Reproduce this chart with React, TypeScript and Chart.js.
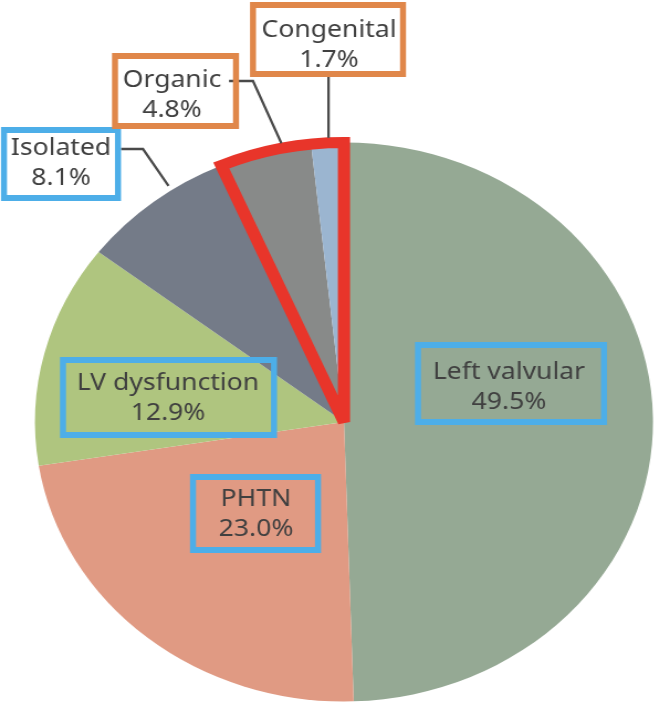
import React, { useEffect, useRef } from "react";
import { Chart, registerables } from "chart.js";

Chart.register(...registerables);

// ---- data ----
const categories = ["Left valvular", "PHTN", "LV dysfunction", "Isolated", "Organic", "Congenital"];
const shares = [49.5, 23.0, 12.9, 8.1, 4.8, 1.7];
const valueLabels = ["49.5%", "23.0%", "12.9%", "8.1%", "4.8%", "1.7%"];
const highlighted = ["Organic", "Congenital"];

// ---- styles ----
const sliceColors = ["#95A994", "#E09A83", "#AFC57F", "#747B88", "#888A89", "#9BB5D0"];
const BLUE = "#4DAEE8";
const ORANGE = "#E0874A";
const boxColors = [BLUE, BLUE, BLUE, BLUE, ORANGE, ORANGE];
const RED = "#E8352A";
const TEXT = "#404040";
const LEADER = "#4A4A4A";

// horizontal stretch of the original picture
const SX = 1.1056;
const W = 592;
const H = 704;

// label boxes (display px): outer rect, text centre x, first baseline
type Box = {
  x0: number; y0: number; x1: number; y1: number; tx: number; b1: number; fill: string | null;
  leader?: { fromX?: number; fromY: number; elbowX?: number; frac: number; vertical?: boolean };
};
const boxLayout: Box[] = [
  { x0: 415, y0: 342, x1: 607, y1: 425, tx: 509, b1: 379, fill: null },
  { x0: 190, y0: 474, x1: 321, y1: 553, tx: 256, b1: 506, fill: null },
  { x0: 60, y0: 357, x1: 277, y1: 438, tx: 168, b1: 390, fill: null },
  { x0: 1, y0: 127, x1: 121, y1: 201, tx: 61, b1: 155, fill: "#FFFFFF", leader: { fromX: 121, fromY: 149, elbowX: 143, frac: 0.64 } },
  { x0: 112, y0: 53, x1: 239, y1: 129, tx: 172, b1: 87, fill: "#FFFFFF", leader: { fromX: 229, fromY: 81, elbowX: 253, frac: 0.69 } },
  { x0: 250, y0: 2, x1: 406, y1: 77, tx: 329, b1: 37, fill: "#FFFFFF", leader: { fromY: 77, frac: 0.54, vertical: true } },
];

const annotations = {
  id: "annotations",
  afterDatasetsDraw(chart: any) {
    const ctx: CanvasRenderingContext2D = chart.ctx;
    const arcs = chart.getDatasetMeta(0).data as any[];
    const cx = arcs[0].x;
    const cy = arcs[0].y;
    const r = arcs[0].outerRadius;

    // red outline around highlighted slices
    const hi = highlighted.map((h) => categories.indexOf(h));
    const startA = arcs[hi[0]].startAngle;
    const endA = arcs[hi[hi.length - 1]].endAngle;
    ctx.save();
    ctx.beginPath();
    ctx.moveTo(cx, cy);
    ctx.arc(cx, cy, r, startA, endA);
    ctx.closePath();
    ctx.lineWidth = 11;
    ctx.strokeStyle = RED;
    ctx.lineJoin = "miter";
    ctx.miterLimit = 2;
    ctx.stroke();
    ctx.restore();

    // boxes + leaders in display coordinates
    ctx.save();
    ctx.scale(1 / SX, 1);
    boxLayout.forEach((b) => {
      if (b.fill) {
        ctx.fillStyle = b.fill;
        ctx.fillRect(b.x0, b.y0, b.x1 - b.x0, b.y1 - b.y0);
      }
    });
    boxLayout.forEach((b, i) => {
      if (!b.leader) return;
      const a = arcs[i];
      const th = a.startAngle + b.leader.frac * (a.endAngle - a.startAngle);
      const ex = (cx + (r + 5) * Math.cos(th)) * SX;
      const ey = cy + (r + 5) * Math.sin(th);
      ctx.beginPath();
      if (b.leader.vertical) {
        ctx.moveTo(ex, b.leader.fromY);
        ctx.lineTo(ex, ey);
      } else {
        ctx.moveTo(b.leader.fromX as number, b.leader.fromY);
        ctx.lineTo(b.leader.elbowX as number, b.leader.fromY);
        ctx.lineTo(ex, ey);
      }
      ctx.lineWidth = 2.5;
      ctx.strokeStyle = LEADER;
      ctx.stroke();
    });
    boxLayout.forEach((b, i) => {
      ctx.lineWidth = 6;
      ctx.strokeStyle = boxColors[i];
      ctx.strokeRect(b.x0 + 3, b.y0 + 3, b.x1 - b.x0 - 6, b.y1 - b.y0 - 6);
    });
    ctx.restore();

    // text (stretched like the original)
    ctx.save();
    ctx.font = "24px 'Noto Sans', sans-serif";
    ctx.fillStyle = TEXT;
    ctx.textAlign = "center";
    ctx.textBaseline = "alphabetic";
    boxLayout.forEach((b, i) => {
      ctx.fillText(categories[i], b.tx / SX, b.b1);
      ctx.fillText(valueLabels[i], b.tx / SX, b.b1 + 30);
    });
    ctx.restore();
  },
};

export default function App() {
  const ref = useRef<HTMLCanvasElement>(null);
  useEffect(() => {
    if (!ref.current) return;
    const chart = new Chart(ref.current, {
      type: "pie",
      data: {
        labels: categories,
        datasets: [
          {
            data: shares,
            backgroundColor: sliceColors,
            borderWidth: 0,
            hoverOffset: 0,
          },
        ],
      },
      options: {
        responsive: false,
        animation: false,
        events: [],
        layout: { padding: { left: 31.6, right: 1.4, top: 142.5, bottom: 2.5 } },
        plugins: {
          legend: { display: false },
          tooltip: { enabled: false },
        },
      },
      plugins: [annotations],
    });
    return () => chart.destroy();
  }, []);
  return (
    <div style={{ position: "fixed", left: 0, top: 0, width: 654, height: 704, overflow: "hidden", background: "#FFFFFF" }}>
      <div style={{ width: W, height: H, transform: `scaleX(${SX})`, transformOrigin: "0 0" }}>
        <canvas ref={ref} width={W} height={H} style={{ display: "block" }} />
      </div>
    </div>
  );
}
